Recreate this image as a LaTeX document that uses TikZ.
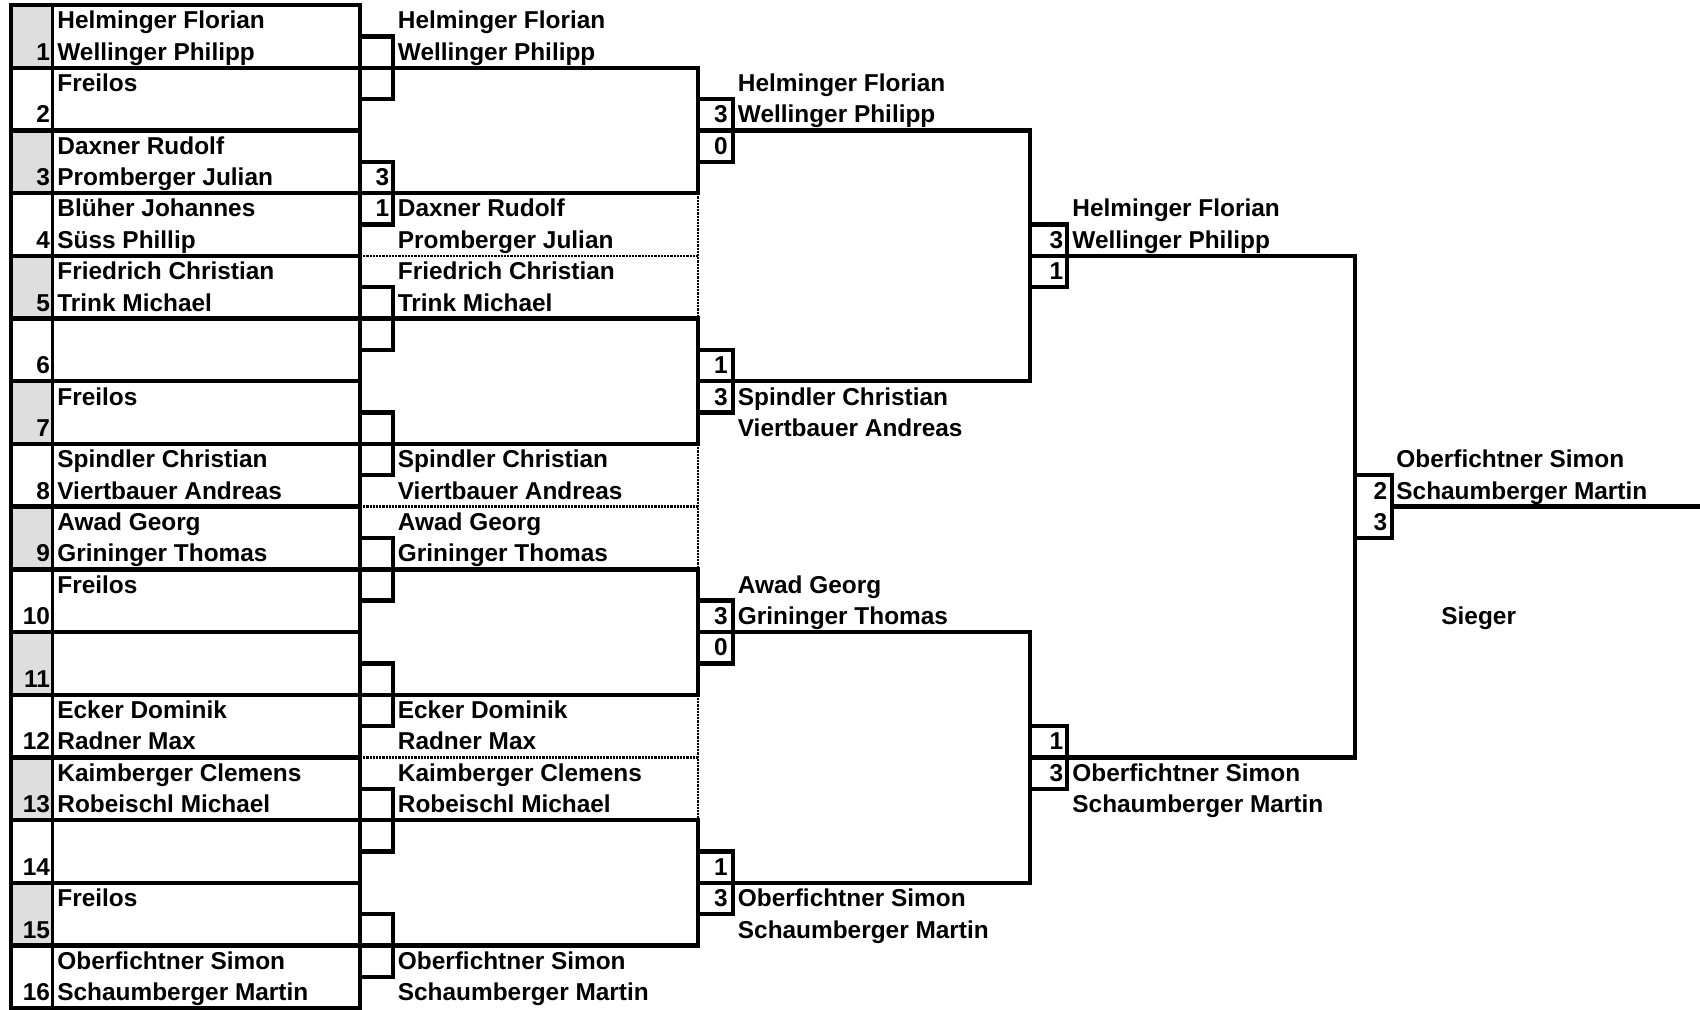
\documentclass[tikz,border=0pt]{standalone}
\usepackage{fontspec}
\setmainfont{Liberation Sans}
\usepackage{tikz}

\begin{document}
\begin{tikzpicture}[x=0.5pt, y=-15.675pt,
                    every node/.style={inner sep=0pt, font=\fontsize{12.2}{14}\selectfont\bfseries},
                    player/.style={anchor=base west},
                    score/.style={anchor=base east},
                    rule/.style={line width=2.2pt},
                    thin rule/.style={line width=1.5pt},
                    cell rule/.style={line width=1.3pt, dash pattern=on 1.1pt off 0.5pt}]
  \useasboundingbox (0,-0.16) rectangle (1700,32.025);
  \foreach \r in {0,4,...,28}
    \fill[black!13] (11,\r) rectangle (52,\r+2);
  \draw[thin rule] (52,0) -- (52,32);
  \foreach \r in {0,2,...,30}
    \draw[rule] (11,\r) rectangle (360,\r+2);
  \foreach \r in {1,5,...,29}
    \draw[rule] (360,\r) rectangle (393,\r+2);
  \foreach \r in {2,10,18,26}
    \draw[rule] (360,\r) -| (698,\r+4) -- (360,\r+4)
                (698,\r+1) rectangle (733,\r+3);
  \foreach \r in {6,14,22}
    \draw[cell rule] (698,\r) -- (698,\r+4) (360,\r+2) -- (698,\r+2);
  \foreach \r in {4,20}
    \draw[rule] (698,\r) -| (1030,\r+8) -- (698,\r+8)
                (1030,\r+3) rectangle (1067,\r+5);
  \draw[rule] (1030,8) -| (1355,24) -- (1030,24)
              (1355,15) rectangle (1392,17)
              (1392,16) -- (1700,16);

  \foreach \r/\who [count=\i] in {0/Helminger Florian, 1/Wellinger Philipp, 2/Freilos,
      4/Daxner Rudolf, 5/Promberger Julian, 6/Blüher Johannes, 7/Süss Phillip,
      8/Friedrich Christian, 9/Trink Michael, 12/Freilos,
      14/Spindler Christian, 15/Viertbauer Andreas, 16/Awad Georg, 17/Grininger Thomas,
      18/Freilos, 22/Ecker Dominik, 23/Radner Max, 24/Kaimberger Clemens,
      25/Robeischl Michael, 28/Freilos, 30/Oberfichtner Simon, 31/Schaumberger Martin}
    \node[player] (ra\i) at (57,\r+0.76) {\who};
  \foreach \k in {1,...,16}
    \node[score] (seed\k) at (50.3,2*\k-0.24) {\k};
  \node[score] (sa1) at (389.5,5.76) {3};
  \node[score] (sa2) at (389.5,6.76) {1};

  \foreach \r/\who [count=\i] in {0/Helminger Florian, 1/Wellinger Philipp,
      6/Daxner Rudolf, 7/Promberger Julian, 8/Friedrich Christian, 9/Trink Michael,
      14/Spindler Christian, 15/Viertbauer Andreas, 16/Awad Georg, 17/Grininger Thomas,
      22/Ecker Dominik, 23/Radner Max, 24/Kaimberger Clemens, 25/Robeischl Michael,
      30/Oberfichtner Simon, 31/Schaumberger Martin}
    \node[player] (rb\i) at (397.5,\r+0.76) {\who};
  \foreach \r/\s [count=\i] in {3/3, 4/0, 11/1, 12/3, 19/3, 20/0, 27/1, 28/3}
    \node[score] (sb\i) at (728,\r+0.76) {\s};

  \foreach \r/\who [count=\i] in {2/Helminger Florian, 3/Wellinger Philipp,
      12/Spindler Christian, 13/Viertbauer Andreas, 18/Awad Georg, 19/Grininger Thomas,
      28/Oberfichtner Simon, 29/Schaumberger Martin}
    \node[player] (rc\i) at (737.5,\r+0.76) {\who};
  \foreach \r/\s [count=\i] in {7/3, 8/1, 23/1, 24/3}
    \node[score] (sc\i) at (1063.5,\r+0.76) {\s};

  \foreach \r/\who [count=\i] in {6/Helminger Florian, 7/Wellinger Philipp,
      24/Oberfichtner Simon, 25/Schaumberger Martin}
    \node[player] (rd\i) at (1072,\r+0.76) {\who};
  \node[score] (sd1) at (1387.5,15.76) {2};
  \node[score] (sd2) at (1387.5,16.76) {3};

  \node[player] (win1) at (1396,14.76) {Oberfichtner Simon};
  \node[player] (win2) at (1396,15.76) {Schaumberger Martin};
  \node[player] (sieger) at (1441,19.76) {Sieger};
\end{tikzpicture}
\end{document}
